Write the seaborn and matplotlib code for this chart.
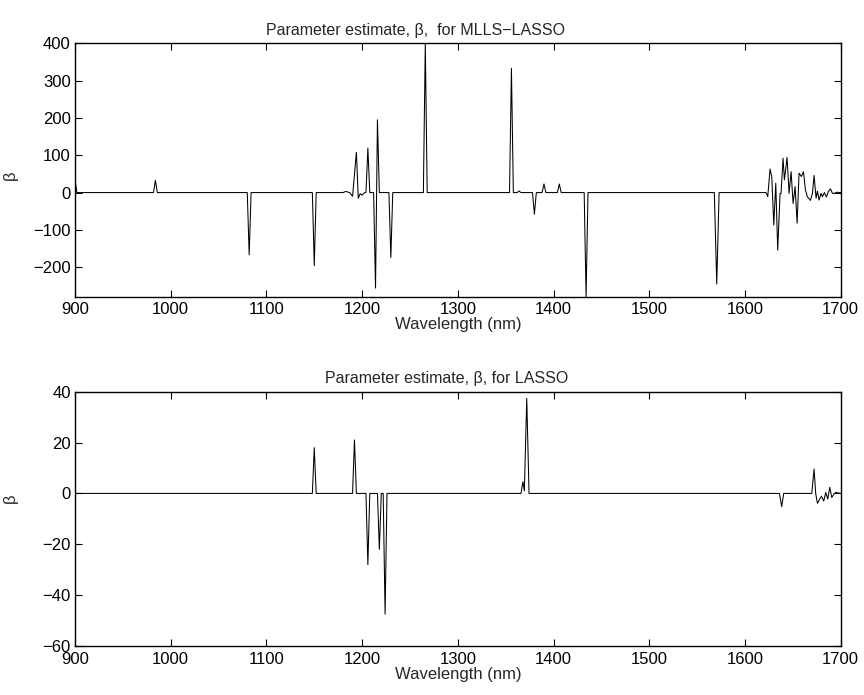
import matplotlib
matplotlib.use("Agg")
import matplotlib.pyplot as plt
import seaborn as sns
import pandas as pd

# ---- data: MLLS-LASSO (top) polyline ----
wl_mlls = [900, 902, 982, 984, 986, 1080, 1082, 1084, 1148, 1150, 1152,
           1180, 1183, 1187, 1190, 1194, 1196, 1198, 1200, 1202, 1204, 1206, 1208,
           1212, 1214, 1216, 1218, 1228, 1230, 1232, 1264, 1266, 1268,
           1354, 1356, 1358, 1362, 1364, 1366, 1378, 1380, 1382, 1388, 1390, 1392,
           1404, 1406, 1408, 1432, 1434, 1436, 1568, 1570.5, 1573, 1622,
           1623.8, 1626.2, 1628.0, 1630.1, 1632.2, 1634.2, 1636.7, 1637.7, 1639.8,
           1641.2, 1644.0, 1646.1, 1648.2, 1650.3, 1652.4, 1654.5, 1656.5, 1659.0,
           1661.1, 1663.2, 1665.2, 1668.4, 1670.5, 1672.2, 1674.3, 1675.7, 1677.4,
           1679.5, 1680.9, 1683.0, 1685.1, 1687.2, 1689.3, 1691.4, 1693.4, 1695.9,
           1698.7, 1700]
beta_mlls = [35, 0, 0, 33, 0, 0, -167, 0, 0, -196, 0,
             0, 3, 0, -10, 108, -15, -3, -7, -1, 0, 119, 0,
             0, -256, 195, 0, 0, -174, 0, 0, 400, 0,
             0, 333, 0, 0, 4, 0, 0, -58, 0, 0, 23, 0,
             0, 23, 0, 0, -279, 0, 0, -245, 0, 0,
             -11, 63, 43, -87, 25, -154, -2, -2, 92,
             34, 94, -2, 56, -29, 16, -82, 52, 43,
             56, 7, -11, -21, -2, 46, -15, 4, -20,
             -2, -11, 0, -12, 3, 10, -2, -2, 1,
             0, 0]

# ---- data: LASSO (bottom) polyline ----
wl_lasso = [900, 1148, 1150, 1152, 1190, 1192, 1194, 1204, 1206, 1208,
            1216, 1218, 1220, 1222, 1224, 1226, 1366, 1368, 1369.5, 1372, 1374.4,
            1636, 1638.4, 1640.5, 1669.8, 1672.2, 1673.9, 1675.7, 1677.8, 1679.9,
            1682.3, 1684.4, 1686.5, 1688.6, 1690.7, 1692.8, 1694.9, 1699.4, 1700]
beta_lasso = [0, 0, 18, 0, 0, 21, 0, 0, -28, 0,
              0, -22, 0, 0, -47.5, 0, 0, 4.6, 1, 37.4, 0,
              0, -5.2, 0, 0, 9.6, 0, -3.9, -2.4, -1.1,
              -3.0, 0.4, -2.2, 2.4, -1.6, -0.3, 0.4, 0, 0]

titles = ["Parameter estimate, \u03b2,  for MLLS\u2212LASSO",
          "Parameter estimate, \u03b2, for LASSO"]
xticks = [900, 1000, 1100, 1200, 1300, 1400, 1500, 1600, 1700]
yticks_top = [-200, -100, 0, 100, 200, 300, 400]
yticks_bot = [-60, -40, -20, 0, 20, 40]

sns.set_style("ticks")
plt.rcParams["font.family"] = ["Liberation Sans", "DejaVu Sans"]
plt.rcParams.update({
    "xtick.direction": "in", "ytick.direction": "in",
    "xtick.top": True, "ytick.right": True,
    "xtick.major.size": 5, "ytick.major.size": 5,
    "xtick.major.width": 0.8, "ytick.major.width": 0.8,
    "axes.edgecolor": "black", "axes.linewidth": 1.0,
    "xtick.color": "black", "ytick.color": "black",
    "font.size": 12,
})

fig = plt.figure(figsize=(8.64, 6.95), dpi=100)
ax1 = fig.add_axes([0.0868, 0.5731, 0.8862, 0.3646])
ax2 = fig.add_axes([0.0868, 0.0705, 0.8862, 0.3659])

df1 = pd.DataFrame({"wl": wl_mlls, "beta": beta_mlls})
df2 = pd.DataFrame({"wl": wl_lasso, "beta": beta_lasso})

for ax, df, title, yt, ylim, tx, ly in [
    (ax1, df1, titles[0], yticks_top, (-279, 400), 0.445, 0.48),
    (ax2, df2, titles[1], yticks_bot, (-60, 40), 0.485, 0.58),
]:
    sns.lineplot(data=df, x="wl", y="beta", ax=ax, color="black",
                 linewidth=0.75, estimator=None, sort=False)
    ax.set_xlim(900, 1700)
    ax.set_ylim(*ylim)
    ax.set_xticks(xticks)
    ax.set_yticks(yt)
    ax.set_title(title, fontsize=11.5, x=tx, pad=6)
    ax.set_xlabel("Wavelength (nm)", fontsize=12, labelpad=0)
    ax.set_ylabel("\u03b2", fontsize=12)
    ax.yaxis.set_label_coords(-0.074, ly)
    ax.tick_params(axis="y", labelsize=12, pad=3)
    ax.tick_params(axis="x", labelsize=12, pad=4)
    for s in ax.spines.values():
        s.set_visible(True)
        s.set_color("black")

fig.savefig("out.png", dpi=100)
